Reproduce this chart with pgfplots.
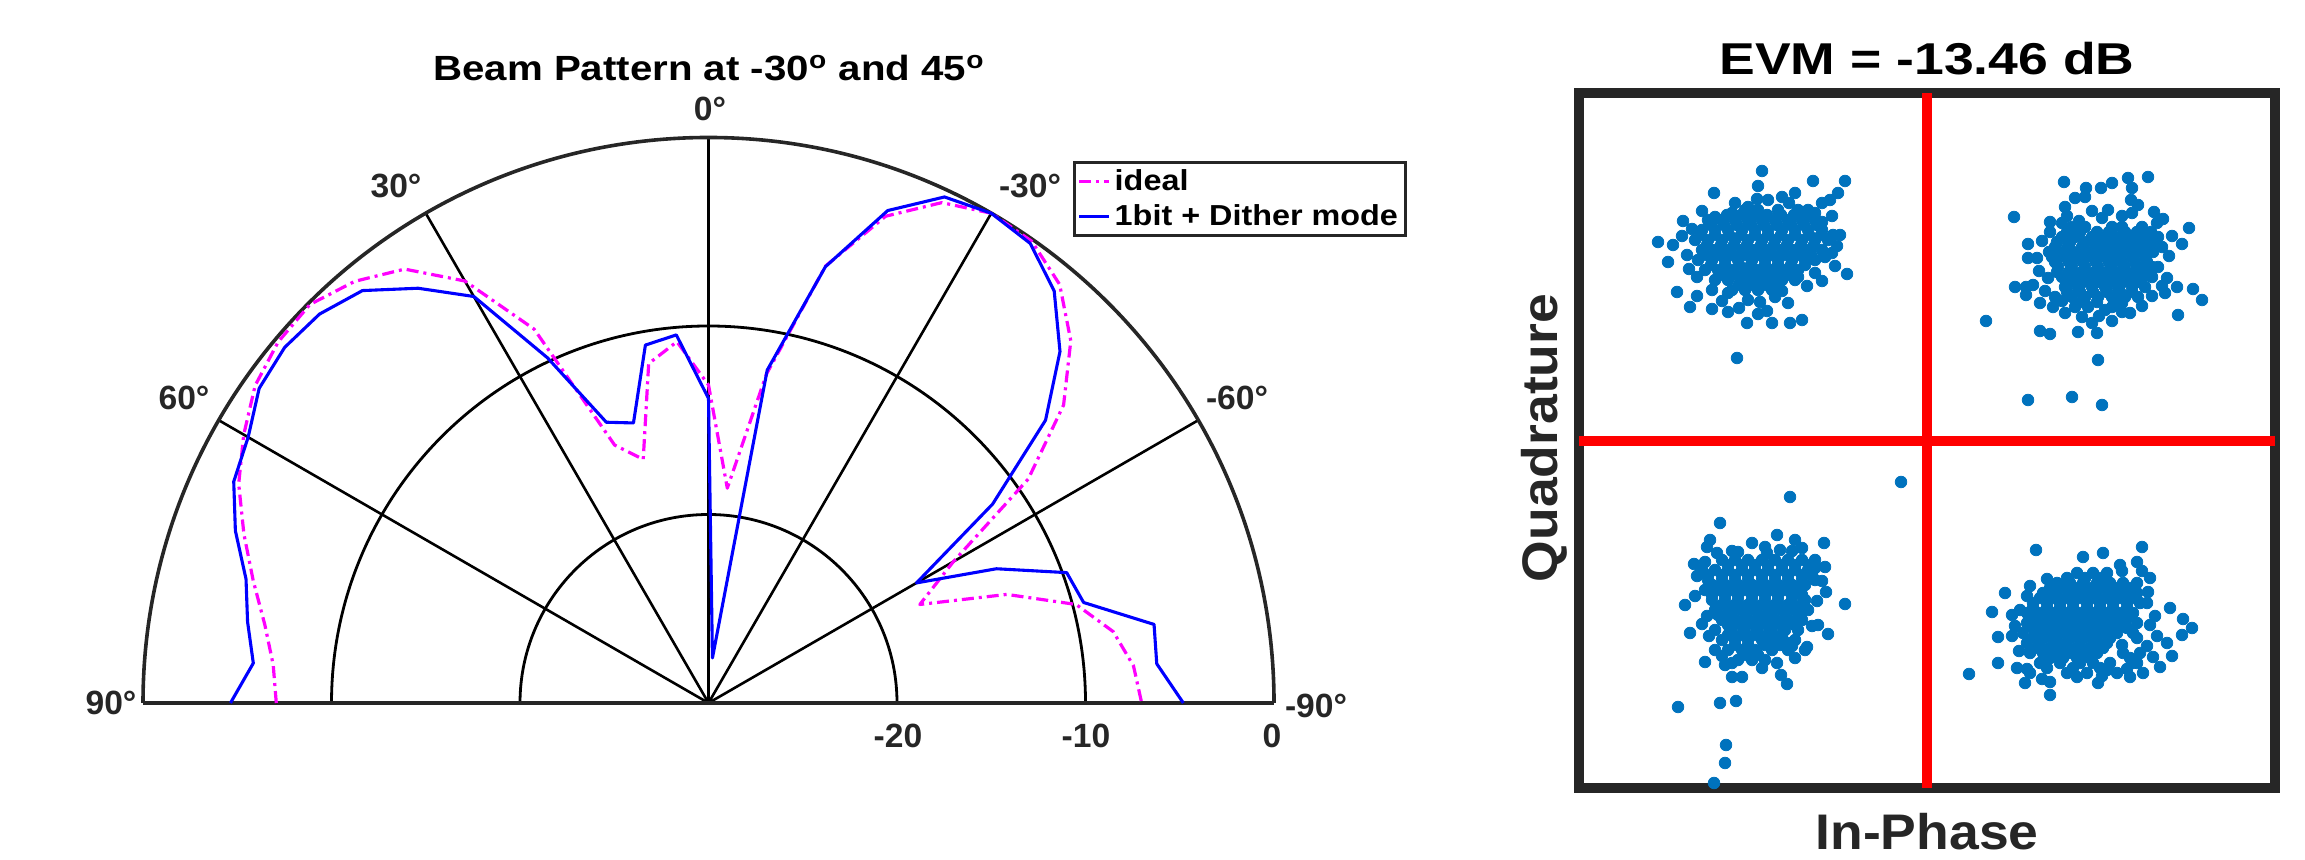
\documentclass[border=0pt]{standalone}
\usepackage{pgfplots}
\pgfplotsset{compat=1.18}
\usepackage{pgfplotstable}
\usepackage{fontspec}
\setmainfont{Liberation Sans}
\definecolor{mblue}{RGB}{0,114,189}
\definecolor{dgray}{RGB}{38,38,38}
\definecolor{magentaL}{RGB}{255,0,255}
\newcommand\tickfont{\fontsize{16.8}{20}\selectfont\bfseries}
\newcommand\titlefont{\fontsize{17.5}{21}\selectfont\bfseries}
\newcommand\evmfont{\fontsize{22.3}{26}\selectfont\bfseries}
\newcommand\labfont{\fontsize{25}{30}\selectfont\bfseries}
\newcommand\legfont{\fontsize{14.45}{17}\selectfont\bfseries}

% beam pattern: angle (deg), normalised power (dB)
\pgfplotstableread{
theta ideal dither
90 -7.07 -4.64
85 -6.82 -5.76
80 -6.10 -5.17
75 -5.00 -4.60
70 -3.77 -3.29
65 -2.50 -2.21
60 -1.53 -1.80
55 -0.64 -0.90
50 -0.20 -0.65
45 -0.10 -0.82
40 -0.80 -1.44
35 -1.90 -3.14
30 -4.15 -5.10
25 -8.12 -9.80
20 -15.44 -14.15
15 -16.62 -14.62
10 -11.72 -10.72
5 -10.76 -10.40
0 -13.13 -13.84
-5 -18.56 -27.60
-10 -12.27 -12.07
-15 -6.00 -6.04
-20 -2.52 -2.20
-25 -0.71 -0.38
-30 0.00 0.00
-35 -0.10 -0.24
-40 -1.02 -1.47
-45 -2.82 -3.63
-50 -5.41 -6.66
-55 -9.30 -11.60
-60 -15.00 -17.26
-65 -17.63 -13.15
-70 -13.16 -9.78
-75 -9.81 -9.40
-80 -8.20 -6.00
-85 -7.37 -6.13
-90 -7.02 -4.81
}\beamdata

\begin{document}
\begin{tikzpicture}
\path[use as bounding box] (0pt,0pt) rectangle (1152.5pt,430pt);

% ---------------- polar beam pattern ----------------
\begin{axis}[
  at={(71.5pt,78.5pt)}, anchor=south west,
  x=9.425pt, y=9.425pt,
  xmin=-30, xmax=30, ymin=0, ymax=30,
  hide axis, clip=false,
  legend style={at={(0.8223,0.9584)}, anchor=north west, draw=dgray,
    line width=1.5pt, fill=white, font=\legfont, inner xsep=1.5pt,
    inner ysep=1.5pt, row sep=1.5pt, legend cell align=left},
  legend image code/.code={\draw[#1] (0pt,0pt) -- (15pt,0pt);},
]
\draw[black, line width=1.4pt] (axis cs:10,0) arc[start angle=0, end angle=180, radius=94.25pt];
\draw[black, line width=1.4pt] (axis cs:20,0) arc[start angle=0, end angle=180, radius=188.5pt];
\draw[black, line width=1.3pt] (axis cs:0,0) -- (axis cs:25.98,15);
\draw[black, line width=1.3pt] (axis cs:0,0) -- (axis cs:15,25.98);
\draw[black, line width=1.3pt] (axis cs:0,0) -- (axis cs:0,30);
\draw[black, line width=1.3pt] (axis cs:0,0) -- (axis cs:-15,25.98);
\draw[black, line width=1.3pt] (axis cs:0,0) -- (axis cs:-25.98,15);
\draw[dgray, line width=1.8pt] (axis cs:30,0) arc[start angle=0, end angle=180, radius=282.75pt];
\draw[dgray, line width=1.8pt] (axis cs:-30,0) -- (axis cs:30,0);

\addplot[magentaL, line width=1.6pt, line join=round,
  dash pattern=on 6pt off 2.5pt on 1.5pt off 2.5pt, data cs=polar]
  table[x expr=\thisrow{theta}+90, y expr=\thisrow{ideal}+30] {\beamdata};
\addlegendentry{\scalebox{1.12}[1]{ideal}}
\addplot[blue, line width=1.55pt, line join=round, data cs=polar]
  table[x expr=\thisrow{theta}+90, y expr=\thisrow{dither}+30] {\beamdata};
\addlegendentry{\scalebox{1.12}[1]{1bit + Dither mode}}
\end{axis}

\node[anchor=base, inner sep=0pt] at (354.5pt,389.5pt) {\titlefont\scalebox{1.15}[1]{Beam Pattern at -30\textsuperscript{o} and 45\textsuperscript{o}}};
\begin{scope}[every node/.style={anchor=base, inner sep=0pt, text=dgray, font=\tickfont}]
\node at (355pt,369.5pt) {0°};
\node at (198pt,331pt) {30°};
\node at (515pt,331pt) {-30°};
\node at (92pt,225pt) {60°};
\node at (618.5pt,225pt) {-60°};
\node at (55.5pt,72.5pt) {90°};
\node at (658pt,71pt) {-90°};
\node at (449pt,56pt) {-20};
\node at (543pt,56pt) {-10};
\node at (636pt,56pt) {0};
\end{scope}

% ---------------- constellation ----------------
\begin{axis}[
  at={(789.5pt,36pt)}, anchor=south west,
  scale only axis, width=348pt, height=347.5pt,
  xmin=-3.48, xmax=3.48, ymin=-3.47, ymax=3.48,
  xtick=\empty, ytick=\empty, axis line style={draw=none},
  clip=false,
]
\draw[dgray, line width=4.75pt] (rel axis cs:0,0) rectangle (rel axis cs:1,1);
% top-left symbol cloud
\addplot[only marks, mark=*, mark size=2.9pt, color=mblue] coordinates {
(-1.65,2.70) (-1.14,2.60) (-0.82,2.60) (-1.69,2.55) (-2.13,2.48) (-1.32,2.48) (-0.89,2.48) (-0.97,2.41) (-1.45,2.44)
(-2.44,2.20) (-2.69,1.99) (-2.54,1.96) (-2.59,1.79) (-2.40,1.86) (-2.50,1.49) (-2.37,1.34) (-2.15,1.32) (-1.99,1.29)
(-1.80,1.18) (-1.69,1.27) (-1.55,1.18) (-1.37,1.18) (-1.25,1.21) (-1.39,1.38) (-0.80,1.67) (-0.95,1.88) (-0.87,2.06)
(-1.90,0.83) (-2.30,1.64) (-2.15,1.51) (-1.99,1.48) (-1.79,1.41) (-1.67,1.39) (-1.52,1.44) (-1.29,1.64) (-1.12,1.68)
(-1.02,1.84) (-0.94,2.06) (-2.12,2.24) (-1.95,2.28) (-1.79,2.34) (-1.59,2.41) (-1.29,2.31) (-1.12,2.28) (-1.05,2.19)
(-2.45,2.05) (-2.38,1.72) (-2.30,1.45) (-2.05,1.40) (-1.88,1.33) (-1.60,1.30) (-1.45,1.50) (-1.20,1.55) (-1.05,1.60)
(-0.92,1.75) (-0.90,1.95) (-0.95,2.25) (-1.05,2.38) (-1.38,2.38) (-1.70,2.42) (-1.92,2.38) (-2.25,2.30) (-2.35,2.12)
(-1.82,2.31) (-1.69,2.31) (-1.49,2.31) (-1.19,2.31)
(-2.19,2.21) (-2.05,2.21) (-1.92,2.21) (-1.79,2.21) (-1.65,2.21) (-1.52,2.21) (-1.39,2.21) (-1.25,2.21) (-1.12,2.21)
(-2.25,2.11) (-2.12,2.11) (-1.99,2.11) (-1.85,2.11) (-1.72,2.11) (-1.59,2.11) (-1.45,2.11) (-1.32,2.11) (-1.19,2.11) (-1.05,2.11)
(-2.32,2.01) (-2.19,2.01) (-2.05,2.01) (-1.92,2.01) (-1.79,2.01) (-1.65,2.01) (-1.52,2.01) (-1.39,2.01) (-1.25,2.01) (-1.12,2.01) (-0.99,2.01)
(-2.25,1.91) (-2.12,1.91) (-1.99,1.91) (-1.85,1.91) (-1.72,1.91) (-1.59,1.91) (-1.45,1.91) (-1.32,1.91) (-1.19,1.91) (-1.05,1.91)
(-2.29,1.81) (-2.15,1.81) (-2.02,1.81) (-1.89,1.81) (-1.75,1.81) (-1.62,1.81) (-1.49,1.81) (-1.35,1.81) (-1.22,1.81) (-1.12,1.81)
(-2.22,1.71) (-2.09,1.71) (-1.95,1.71) (-1.82,1.71) (-1.69,1.71) (-1.55,1.71) (-1.42,1.71) (-1.29,1.71)
(-2.12,1.61) (-1.99,1.61) (-1.85,1.61) (-1.72,1.61) (-1.59,1.61) (-1.45,1.61) (-1.32,1.61)
(-1.95,1.51) (-1.82,1.51) (-1.69,1.51) (-1.55,1.51)
(-2.00,2.26) (-1.86,2.26) (-1.73,2.26) (-1.60,2.26) (-1.46,2.26) (-1.33,2.26) (-1.20,2.26)
(-2.16,2.16) (-2.03,2.16) (-1.90,2.16) (-1.76,2.16) (-1.63,2.16) (-1.50,2.16) (-1.36,2.16) (-1.23,2.16) (-1.10,2.16)
(-2.26,2.06) (-2.12,2.06) (-1.98,2.06) (-1.86,2.06) (-1.72,2.06) (-1.59,2.06) (-1.46,2.06) (-1.32,2.06) (-1.18,2.06) (-1.06,2.06)
(-2.20,1.96) (-2.06,1.96) (-1.93,1.96) (-1.80,1.96) (-1.66,1.96) (-1.53,1.96) (-1.40,1.96) (-1.26,1.96) (-1.13,1.96)
(-2.22,1.86) (-2.08,1.86) (-1.95,1.86) (-1.82,1.86) (-1.68,1.86) (-1.55,1.86) (-1.42,1.86) (-1.28,1.86) (-1.16,1.86)
(-2.16,1.76) (-2.02,1.76) (-1.88,1.76) (-1.76,1.76) (-1.62,1.76) (-1.49,1.76) (-1.36,1.76) (-1.22,1.76)
(-2.05,1.66) (-1.92,1.66) (-1.78,1.66) (-1.65,1.66) (-1.52,1.66) (-1.38,1.66)
(-1.88,1.56) (-1.75,1.56) (-1.62,1.56) (-1.49,1.56)
};
% top-right symbol cloud
\addplot[only marks, mark=*, mark size=2.9pt, color=mblue] coordinates {
(1.37,2.59) (1.59,2.53) (1.74,2.53) (1.85,2.58) (2.01,2.63) (2.21,2.64) (2.05,2.53) (0.87,2.24) (1.38,2.34) (1.48,2.43)
(1.58,2.44) (1.23,2.19) (1.23,2.09) (1.35,2.18) (1.75,2.23) (1.81,2.31) (2.04,2.41) (2.11,2.36) (2.05,2.28) (2.27,2.29)
(2.36,2.22) (2.62,2.13) (2.55,1.97) (1.01,1.97) (1.01,1.83) (1.10,1.83) (0.88,1.54) (0.99,1.54) (1.06,1.56) (0.99,1.46)
(1.21,1.63) (2.31,1.74) (2.40,1.63) (2.50,1.54) (2.38,1.48) (2.66,1.52) (2.75,1.41) (2.51,1.26) (2.15,1.35) (0.59,1.20)
(1.13,1.10) (1.23,1.07) (1.51,1.09) (1.70,1.08) (1.71,0.81) (1.01,0.41) (1.45,0.44) (1.75,0.36) (1.13,1.38) (1.26,1.34)
(1.38,1.28) (1.55,1.24) (1.65,1.18) (1.95,1.29) (2.03,1.28) (1.78,1.31)
(1.15,2.00) (1.12,1.70) (1.18,1.50) (1.35,1.40) (1.72,1.25) (1.95,1.38) (2.25,1.45) (2.35,1.55) (2.42,1.85)
(2.45,2.05) (2.30,2.18) (1.95,2.25) (1.65,2.30) (1.40,2.25) (1.52,2.20) (1.85,1.20)
(1.45,2.14) (1.58,2.14) (1.85,2.14) (1.95,2.14) (2.15,2.14)
(1.35,2.04) (1.48,2.04) (1.65,2.04) (1.78,2.04) (1.91,2.04) (2.05,2.04) (2.18,2.04) (2.31,2.04)
(1.28,1.94) (1.41,1.94) (1.55,1.94) (1.68,1.94) (1.81,1.94) (1.95,1.94) (2.08,1.94) (2.21,1.94) (2.35,1.94)
(1.25,1.84) (1.38,1.84) (1.51,1.84) (1.65,1.84) (1.78,1.84) (1.91,1.84) (2.05,1.84) (2.18,1.84)
(1.31,1.74) (1.45,1.74) (1.58,1.74) (1.71,1.74) (1.85,1.74) (1.98,1.74) (2.11,1.74) (2.25,1.74)
(1.35,1.64) (1.48,1.64) (1.61,1.64) (1.75,1.64) (1.88,1.64) (2.01,1.64) (2.15,1.64) (2.25,1.64)
(1.38,1.54) (1.51,1.54) (1.65,1.54) (1.78,1.54) (1.91,1.54) (2.05,1.54) (2.18,1.54)
(1.28,1.44) (1.45,1.44) (1.58,1.44) (1.71,1.44) (1.85,1.44) (1.98,1.44) (2.11,1.44)
(1.48,1.34) (1.61,1.34) (1.85,1.34)
(1.40,2.09) (1.53,2.09) (1.70,2.09) (1.82,2.09) (1.98,2.09) (2.10,2.09) (2.24,2.09)
(1.30,1.99) (1.43,1.99) (1.58,1.99) (1.72,1.99) (1.86,1.99) (1.99,1.99) (2.12,1.99) (2.27,1.99)
(1.22,1.89) (1.34,1.89) (1.46,1.89) (1.60,1.89) (1.72,1.89) (1.86,1.89) (1.99,1.89) (2.12,1.89) (2.26,1.89)
(1.28,1.79) (1.42,1.79) (1.56,1.79) (1.69,1.79) (1.82,1.79) (1.95,1.79) (2.08,1.79) (2.20,1.79)
(1.30,1.69) (1.42,1.69) (1.55,1.69) (1.68,1.69) (1.80,1.69) (1.94,1.69) (2.08,1.69) (2.20,1.69)
(1.43,1.59) (1.56,1.59) (1.70,1.59) (1.83,1.59) (1.96,1.59) (2.10,1.59)
(1.40,1.49) (1.53,1.49) (1.66,1.49) (1.80,1.49) (1.93,1.49) (2.05,1.49)
(1.55,1.39) (1.70,1.39) (1.92,1.39)
};
% bottom-left symbol cloud
\addplot[only marks, mark=*, mark size=2.9pt, color=mblue] coordinates {
(-0.26,-0.41) (-1.37,-0.56) (-2.07,-0.82) (-2.17,-0.99) (-2.20,-1.06) (-1.50,-0.94) (-1.47,-1.09) (-1.32,-0.99)
(-1.25,-1.07) (-1.03,-1.02) (-1.02,-1.26) (-2.33,-1.23) (-2.22,-1.21) (-2.42,-1.64) (-0.82,-1.63) (-1.01,-1.51)
(-0.99,-1.93) (-1.09,-1.84) (-2.37,-1.92) (-2.25,-1.83) (-2.22,-2.21) (-2.02,-2.24) (-1.95,-2.36) (-1.85,-2.36)
(-1.65,-2.27) (-1.46,-2.34) (-1.40,-2.43) (-1.32,-2.17) (-1.20,-2.06) (-1.39,-2.02) (-2.49,-2.66) (-2.07,-2.62)
(-1.91,-2.60) (-2.01,-3.04) (-2.02,-3.22) (-2.13,-3.42) (-2.12,-2.09) (-1.75,-1.02) (-1.89,-1.11) (-1.62,-1.06) (-1.12,-1.27)
(-2.30,-1.35) (-2.32,-1.55) (-2.20,-1.75) (-2.18,-1.95) (-2.05,-2.15) (-1.95,-2.22) (-1.50,-2.22) (-1.35,-2.05)
(-1.15,-1.85) (-1.10,-1.60) (-1.05,-1.40) (-1.95,-1.10) (-1.60,-1.12) (-1.35,-1.10) (-2.10,-1.12)
(-2.05,-1.19) (-1.92,-1.19) (-1.79,-1.19) (-1.65,-1.19) (-1.52,-1.19) (-1.39,-1.19) (-1.25,-1.19) (-1.12,-1.19)
(-2.25,-1.29) (-2.12,-1.29) (-1.99,-1.29) (-1.85,-1.29) (-1.72,-1.29) (-1.59,-1.29) (-1.45,-1.29) (-1.32,-1.29) (-1.19,-1.29)
(-2.19,-1.39) (-2.05,-1.39) (-1.92,-1.39) (-1.79,-1.39) (-1.65,-1.39) (-1.52,-1.39) (-1.39,-1.39) (-1.25,-1.39) (-1.12,-1.39)
(-2.22,-1.49) (-2.09,-1.49) (-1.95,-1.49) (-1.82,-1.49) (-1.69,-1.49) (-1.55,-1.49) (-1.42,-1.49) (-1.29,-1.49)
(-2.15,-1.59) (-2.02,-1.59) (-1.89,-1.59) (-1.75,-1.59) (-1.62,-1.59) (-1.49,-1.59) (-1.35,-1.59) (-1.22,-1.59)
(-2.12,-1.69) (-1.99,-1.69) (-1.85,-1.69) (-1.72,-1.69) (-1.59,-1.69) (-1.45,-1.69) (-1.32,-1.69) (-1.19,-1.69)
(-2.05,-1.79) (-1.92,-1.79) (-1.79,-1.79) (-1.65,-1.79) (-1.52,-1.79) (-1.39,-1.79) (-1.25,-1.79)
(-2.12,-1.89) (-1.95,-1.89) (-1.82,-1.89) (-1.69,-1.89) (-1.55,-1.89) (-1.42,-1.89) (-1.29,-1.89)
(-2.05,-1.99) (-1.92,-1.99) (-1.79,-1.99) (-1.65,-1.99) (-1.52,-1.99) (-1.32,-1.99)
(-1.99,-2.09) (-1.85,-2.09) (-1.72,-2.09) (-1.55,-2.09) (-1.39,-2.09) (-1.22,-2.09)
(-1.89,-2.19) (-1.75,-2.19) (-1.62,-2.19)
(-1.99,-1.24) (-1.85,-1.24) (-1.72,-1.24) (-1.59,-1.24) (-1.45,-1.24) (-1.32,-1.24) (-1.18,-1.24)
(-2.19,-1.34) (-2.05,-1.34) (-1.92,-1.34) (-1.79,-1.34) (-1.65,-1.34) (-1.52,-1.34) (-1.39,-1.34) (-1.25,-1.34) (-1.15,-1.34)
(-2.15,-1.44) (-2.02,-1.44) (-1.89,-1.44) (-1.75,-1.44) (-1.62,-1.44) (-1.49,-1.44) (-1.35,-1.44) (-1.22,-1.44)
(-2.15,-1.54) (-2.02,-1.54) (-1.89,-1.54) (-1.75,-1.54) (-1.62,-1.54) (-1.49,-1.54) (-1.35,-1.54) (-1.25,-1.54)
(-2.05,-1.64) (-1.92,-1.64) (-1.79,-1.64) (-1.65,-1.64) (-1.52,-1.64) (-1.39,-1.64) (-1.25,-1.64)
(-2.09,-1.74) (-1.95,-1.74) (-1.82,-1.74) (-1.69,-1.74) (-1.55,-1.74) (-1.42,-1.74) (-1.29,-1.74)
(-1.99,-1.84) (-1.85,-1.84) (-1.72,-1.84) (-1.59,-1.84) (-1.45,-1.84) (-1.32,-1.84)
(-1.99,-1.94) (-1.85,-1.94) (-1.72,-1.94) (-1.59,-1.94) (-1.45,-1.94)
(-1.92,-2.04) (-1.79,-2.04) (-1.62,-2.04) (-1.47,-2.04)
(-1.82,-2.14) (-1.69,-2.14)
};
% bottom-right symbol cloud
\addplot[only marks, mark=*, mark size=2.9pt, color=mblue] coordinates {
(1.09,-1.09) (2.15,-1.06) (1.76,-1.12) (1.56,-1.16) (1.93,-1.24) (2.10,-1.21) (0.78,-1.52) (1.03,-1.45) (0.65,-1.71)
(0.85,-1.74) (0.71,-1.96) (0.85,-1.95) (0.71,-2.22) (0.42,-2.33) (0.90,-2.27) (0.98,-2.42) (1.23,-2.41) (1.23,-2.54)
(2.43,-1.67) (2.56,-1.78) (2.65,-1.87) (2.55,-1.94) (2.45,-2.15) (2.40,-2.02) (2.23,-1.37) (2.21,-1.51) (2.23,-1.84)
(2.33,-2.26) (2.16,-2.32) (2.03,-2.36) (1.71,-2.42) (1.50,-2.36) (1.80,-2.29) (1.95,-2.04) (2.10,-1.97) (2.05,-2.22)
(2.26,-2.16) (0.93,-1.69)
(0.88,-1.85) (0.92,-2.10) (1.00,-2.28) (1.15,-2.38) (1.75,-2.35) (2.00,-2.28) (2.20,-2.05) (2.28,-1.75)
(2.20,-1.62) (2.30,-1.95) (1.95,-1.30) (1.20,-1.38) (1.00,-1.55) (2.15,-1.30)
(1.50,-1.32) (1.66,-1.32) (1.80,-1.32)
(1.30,-1.42) (1.43,-1.42) (1.56,-1.42) (1.70,-1.42) (1.83,-1.42) (1.96,-1.42) (2.10,-1.42)
(1.16,-1.52) (1.30,-1.52) (1.43,-1.52) (1.56,-1.52) (1.70,-1.52) (1.83,-1.52) (1.96,-1.52) (2.10,-1.52)
(1.06,-1.62) (1.20,-1.62) (1.33,-1.62) (1.46,-1.62) (1.60,-1.62) (1.73,-1.62) (1.86,-1.62) (2.00,-1.62) (2.13,-1.62)
(1.00,-1.72) (1.13,-1.72) (1.26,-1.72) (1.40,-1.72) (1.53,-1.72) (1.66,-1.72) (1.80,-1.72) (1.93,-1.72) (2.06,-1.72)
(1.00,-1.82) (1.13,-1.82) (1.26,-1.82) (1.40,-1.82) (1.53,-1.82) (1.66,-1.82) (1.80,-1.82) (1.93,-1.82) (2.10,-1.82)
(0.96,-1.92) (1.10,-1.92) (1.23,-1.92) (1.36,-1.92) (1.50,-1.92) (1.63,-1.92) (1.76,-1.92) (1.90,-1.92) (2.06,-1.92)
(1.00,-2.02) (1.13,-2.02) (1.26,-2.02) (1.40,-2.02) (1.53,-2.02) (1.66,-2.02) (1.80,-2.02)
(1.03,-2.12) (1.16,-2.12) (1.30,-2.12) (1.43,-2.12) (1.56,-2.12) (1.70,-2.12) (1.96,-2.12) (2.13,-2.12)
(1.13,-2.22) (1.33,-2.22) (1.53,-2.22) (1.66,-2.22) (1.83,-2.22) (2.10,-2.22)
(1.03,-2.32) (1.40,-2.32) (1.60,-2.32) (1.90,-2.32)
(1.40,-1.37) (1.58,-1.37) (1.73,-1.37)
(1.23,-1.47) (1.36,-1.47) (1.50,-1.47) (1.63,-1.47) (1.76,-1.47) (1.90,-1.47) (2.03,-1.47)
(1.13,-1.57) (1.26,-1.57) (1.40,-1.57) (1.53,-1.57) (1.66,-1.57) (1.80,-1.57) (1.93,-1.57) (2.06,-1.57)
(1.06,-1.67) (1.20,-1.67) (1.33,-1.67) (1.46,-1.67) (1.60,-1.67) (1.73,-1.67) (1.86,-1.67) (2.00,-1.67)
(1.06,-1.77) (1.20,-1.77) (1.33,-1.77) (1.46,-1.77) (1.60,-1.77) (1.73,-1.77) (1.86,-1.77) (2.00,-1.77)
(1.06,-1.87) (1.20,-1.87) (1.33,-1.87) (1.46,-1.87) (1.60,-1.87) (1.73,-1.87) (1.86,-1.87) (2.00,-1.87)
(1.06,-1.97) (1.16,-1.97) (1.30,-1.97) (1.43,-1.97) (1.56,-1.97) (1.70,-1.97) (1.83,-1.97)
(1.10,-2.07) (1.23,-2.07) (1.36,-2.07) (1.50,-2.07) (1.63,-2.07) (1.76,-2.07)
(1.23,-2.17) (1.36,-2.17) (1.50,-2.17) (1.63,-2.17) (2.03,-2.17)
(1.20,-2.27) (1.46,-2.27) (1.73,-2.27)
};
\addplot[red, line width=5pt] coordinates {(0,-3.47) (0,3.48)};
\addplot[red, line width=5pt] coordinates {(-3.48,0) (3.48,0)};
\end{axis}

\node[anchor=base, inner sep=0pt] at (963.5pt,392.5pt) {\evmfont\scalebox{1.2}[1]{EVM = -13.46 dB}};
\node[anchor=base, inner sep=0pt, text=dgray] at (963.5pt,5pt) {\labfont\scalebox{1.07}[1]{In-Phase}};
\node[anchor=base, inner sep=0pt, text=dgray, rotate=90] at (778.5pt,211pt) {\labfont\scalebox{1.07}[1]{Quadrature}};
\end{tikzpicture}
\end{document}
